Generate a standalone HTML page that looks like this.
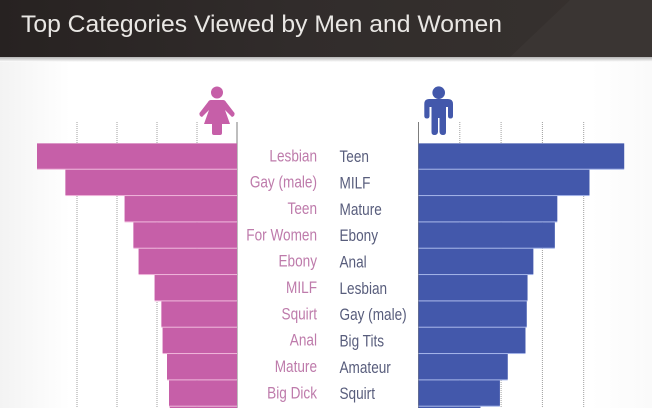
<!DOCTYPE html>
<html>
<head>
<meta charset="utf-8">
<style>
html,body{margin:0;padding:0;background:#fff;overflow:hidden}
#wrap{position:relative;width:652px;height:408px;overflow:hidden}
svg{display:block}
text{font-family:"Liberation Sans",sans-serif}
</style>
</head>
<body>
<div id="wrap">
<svg id="chart" width="652" height="408" viewBox="0 0 652 408" xmlns="http://www.w3.org/2000/svg">
<defs>
<linearGradient id="hdr" x1="0" y1="0" x2="1" y2="0">
<stop offset="0" stop-color="#272221"/><stop offset=".45" stop-color="#312c2b"/><stop offset="1" stop-color="#37322f"/>
</linearGradient>
<linearGradient id="shadow" x1="0" y1="0" x2="0" y2="1">
<stop offset="0" stop-color="#b5b5b5"/><stop offset="1" stop-color="#ffffff"/>
</linearGradient>
<linearGradient id="edgeL" x1="0" y1="0" x2="1" y2="0">
<stop offset="0" stop-color="#f3f3f3"/><stop offset="1" stop-color="#ffffff"/>
</linearGradient>
<linearGradient id="edgeR" x1="0" y1="0" x2="1" y2="0">
<stop offset="0" stop-color="#ffffff"/><stop offset="1" stop-color="#fafafa"/>
</linearGradient>
</defs>
<rect x="0" y="0" width="652" height="408" fill="#ffffff"/>
<rect x="0" y="57" width="70" height="351" fill="url(#edgeL)"/>
<rect x="590" y="57" width="62" height="351" fill="url(#edgeR)"/>
<rect x="0" y="0" width="652" height="57" fill="url(#hdr)"/>
<polygon points="510,57 570,0 652,0 652,57" fill="#3a3533"/>
<rect x="0" y="57" width="652" height="5" fill="url(#shadow)"/>
<text x="21" y="32" font-size="24" fill="#e9e7e4" textLength="481" lengthAdjust="spacingAndGlyphs">Top Categories Viewed by Men and Women</text>

<g id="grid"></g>
<g id="bars"></g>
<g id="labels"></g>

<g fill="#c65fa8">
<circle cx="217" cy="92.5" r="6"/>
<path d="M211 100 H223 Q225 100 226 102 L234.500 113 Q235 116 232 117 L225 110 L230 124 H222 V133 Q222 135 220 135 H214 Q212 135 212 133 V124 H204 L209 110 L202 117 Q199 116 199.500 113 L208 102 Q209 100 211 100 Z"/>
</g>
<g fill="#4358ab">
<circle cx="438.700" cy="92.700" r="6.300"/>
<path d="M429 99 H448 Q453 99 453 104 V116 Q453 118.500 450.500 118.500 Q448 118.500 448 116 V107 H446 V132 Q446 135 443 135 Q440 135 439.500 132 V118 H438 V132 Q437.500 135 434.500 135 Q431.500 135 431.500 132 V107 H429.500 V116 Q429.500 118.500 427 118.500 Q424.300 118.500 424.300 116 V104 Q424.300 99 429 99 Z"/>
</g>
</svg>
</div>
<script>
const womenCategories = ["Lesbian","Gay (male)","Teen","For Women","Ebony","MILF","Squirt","Anal","Mature","Big Dick"];
const womenValues = [5.0,4.29,2.81,2.59,2.46,2.06,1.89,1.86,1.75,1.7,1.68];
const menCategories = ["Teen","MILF","Mature","Ebony","Anal","Lesbian","Gay (male)","Big Tits","Amateur","Squirt"];
const menValues = [4.98,4.14,3.36,3.3,2.78,2.64,2.62,2.59,2.16,1.97,1.5];
const gridTicks = [1,2,3,4];

const NS = 'http://www.w3.org/2000/svg';
const xWomen = v => 237 - v * 40;
const xMen = v => 418.5 + v * 41.3;
const yRow = i => 143.4 + i * 26.33;
const rowH = 25.3;
const clampH = (i, h) => Math.min(h, 408 - yRow(i));

const grid = document.getElementById('grid');
const bars = document.getElementById('bars');
const labels = document.getElementById('labels');

function gridLine(x, dashed) {
  const l = document.createElementNS(NS, 'line');
  
  
  l.setAttribute('x1', x);
  l.setAttribute('x2', x);
  l.setAttribute('y1', 122);
  l.setAttribute('y2', 408);
  l.setAttribute('stroke', dashed ? '#9f9f9f' : '#7d7d7d');
  l.setAttribute('stroke-width', '1');
  if (dashed) l.setAttribute('stroke-dasharray', '1 1');
  grid.appendChild(l);
}
gridTicks.forEach(t => { gridLine(xWomen(t), true); gridLine(xMen(t), true); });
gridLine(xWomen(0), false);
gridLine(xMen(0), false);

womenValues.forEach((v, i) => {
  const gap = document.createElementNS(NS, 'rect');
  
  
  gap.setAttribute('x', xWomen(v));
  gap.setAttribute('y', yRow(i));
  gap.setAttribute('width', xWomen(0) - xWomen(v));
  gap.setAttribute('height', clampH(i, 26.33));
  gap.setAttribute('fill', '#eeb4da');
  bars.appendChild(gap);
  const r = document.createElementNS(NS, 'rect');
  
  
  r.setAttribute('x', xWomen(v));
  r.setAttribute('y', yRow(i));
  r.setAttribute('width', xWomen(0) - xWomen(v));
  r.setAttribute('height', clampH(i, rowH));
  r.setAttribute('fill', '#c65fa8');
  bars.appendChild(r);
});
menValues.forEach((v, i) => {
  const gap = document.createElementNS(NS, 'rect');
  
  
  gap.setAttribute('x', xMen(0));
  gap.setAttribute('y', yRow(i));
  gap.setAttribute('width', xMen(v) - xMen(0));
  gap.setAttribute('height', clampH(i, 26.33));
  gap.setAttribute('fill', '#a3b3e8');
  bars.appendChild(gap);
  const r = document.createElementNS(NS, 'rect');
  
  
  r.setAttribute('x', xMen(0));
  r.setAttribute('y', yRow(i));
  r.setAttribute('width', xMen(v) - xMen(0));
  r.setAttribute('height', clampH(i, rowH));
  r.setAttribute('fill', '#4358ab');
  bars.appendChild(r);
});

function label(txt, i, side) {
  const t = document.createElementNS(NS, 'text');
  
  
  t.textContent = txt;
  t.setAttribute('font-size', '17');
  const y = yRow(i) + 18 + (side === 'w' ? 0 : 0.8);
  if (side === 'w') {
    t.setAttribute('text-anchor', 'end');
    t.setAttribute('fill', '#be7bab');
    t.setAttribute('transform', 'translate(317 ' + y + ') scale(.8 1)');
  } else {
    t.setAttribute('fill', '#585d7c');
    t.setAttribute('transform', 'translate(339.500 ' + y + ') scale(.8 1)');
  }
  labels.appendChild(t);
}
womenCategories.forEach((c, i) => label(c, i, 'w'));
menCategories.forEach((c, i) => label(c, i, 'm'));
</script>
</body>
</html>
